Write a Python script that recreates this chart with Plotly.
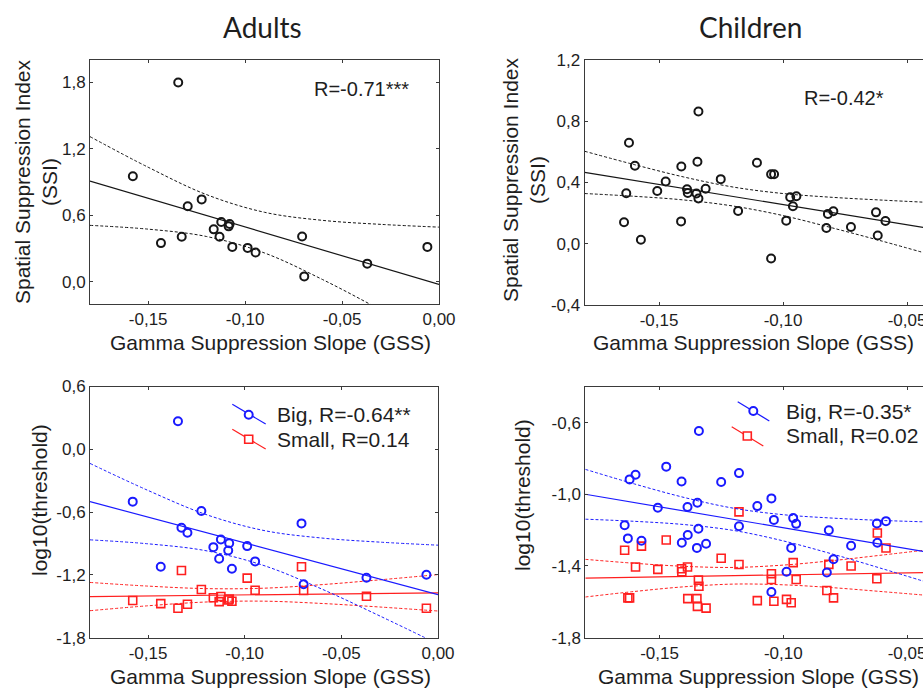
import plotly.graph_objects as go

W, H = 923, 689

# ---------------- data ----------------
# Adults (18 subjects)
adult_gss = [-0.1579, -0.1434, -0.1345, -0.1327, -0.1296, -0.1224, -0.1162, -0.1132, -0.1123,
             -0.1085, -0.1080, -0.1066, -0.0987, -0.0946, -0.0706, -0.0695, -0.0370, -0.0060]
adult_ssi = [0.952, 0.349, 1.797, 0.406, 0.682, 0.743, 0.473, 0.406, 0.540,
             0.500, 0.522, 0.315, 0.306, 0.264, 0.409, 0.049, 0.164, 0.315]
adult_big = [-0.500, -1.122, 0.268, -0.749, -0.797, -0.590, -0.935, -1.046, -0.861,
             -0.967, -0.897, -1.142, -0.925, -1.071, -0.708, -1.289, -1.228, -1.199]
adult_small = [-1.445, -1.474, -1.519, -1.158, -1.480, -1.340, -1.419, -1.455, -1.407,
               -1.440, -1.430, -1.452, -1.231, -1.346, -1.122, -1.349, -1.404, -1.519]

# Children, SSI panel (visible points)
child_ssi_gss = [-0.1641, -0.1632, -0.1621, -0.1597, -0.1573, -0.1507, -0.1473, -0.1411, -0.1410,
                 -0.1387, -0.1384, -0.1349, -0.1345, -0.1341, -0.1341, -0.1312, -0.1251, -0.1181,
                 -0.1105, -0.1048, -0.1048, -0.1036, -0.0987, -0.0971, -0.0960, -0.0946, -0.0825,
                 -0.0819, -0.0797, -0.0726, -0.0625, -0.0618, -0.0587]
child_ssi = [0.140, 0.330, 0.660, 0.509, 0.026, 0.345, 0.407, 0.146, 0.505,
             0.356, 0.332, 0.328, 0.536, 0.864, 0.295, 0.359, 0.422, 0.214,
             0.529, 0.454, -0.096, 0.454, 0.151, 0.304, 0.245, 0.310, 0.103,
             0.195, 0.212, 0.109, 0.205, 0.054, 0.149]

# Children, threshold panel (visible points)
child_thr_gss = [-0.1641, -0.1628, -0.1621, -0.1597, -0.1573, -0.1507, -0.1473, -0.1411, -0.1410,
                 -0.1387, -0.1386, -0.1349, -0.1347, -0.1343, -0.1341, -0.1312, -0.1251, -0.1179,
                 -0.1179, -0.1105, -0.1048, -0.1048, -0.1038, -0.0987, -0.0968, -0.0960, -0.0948,
                 -0.0824, -0.0816, -0.0797, -0.0726, -0.0622, -0.0620, -0.0585]
child_big = [-1.173, -1.246, -0.917, -0.891, -1.259, -1.075, -0.846, -0.929, -1.270,
             -1.071, -1.227, -1.299, -1.047, -1.192, -0.647, -1.276, -0.932, -0.882,
             -1.178, -1.066, -1.023, -1.545, -1.143, -1.432, -1.299, -1.133, -1.165,
             -1.436, -1.201, -1.362, -1.287, -1.163, -1.270, -1.150]
child_small = [-1.312, -1.578, -1.578, -1.406, -1.289, -1.419, -1.255, -1.415, -1.432,
               -1.406, -1.582, -1.582, -1.625, -1.479, -1.513, -1.635, -1.357, -1.098,
               -1.392, -1.593, -1.443, -1.475, -1.597, -1.586, -1.605, -1.381, -1.475,
               -1.537, -1.391, -1.578, -1.400, -1.471, -1.216, -1.300]

# Regression lines and 95% bands at fixed GSS values
adult_fit_gss = [-0.18, -0.15, -0.12, -0.09, -0.06, -0.03, 0.0]
adult_ssi_fit = [0.909, 0.754, 0.598, 0.443, 0.287, 0.132, -0.024]
adult_ssi_hi = [1.309, 1.033, 0.787, 0.627, 0.554, 0.518, 0.493]
adult_ssi_lo = [0.509, 0.475, 0.409, 0.260, 0.020, -0.254, -0.541]
adult_big_fit = [-0.500, -0.648, -0.796, -0.944, -1.092, -1.240, -1.388]
adult_big_hi = [-0.135, -0.393, -0.623, -0.776, -0.848, -0.887, -0.916]
adult_big_lo = [-0.865, -0.903, -0.969, -1.111, -1.336, -1.593, -1.860]
adult_small_fit = [-1.407, -1.401, -1.395, -1.389, -1.383, -1.377, -1.371]
adult_small_hi = [-1.272, -1.307, -1.331, -1.327, -1.293, -1.247, -1.197]
adult_small_lo = [-1.542, -1.495, -1.459, -1.451, -1.473, -1.507, -1.545]

child_fit_gss = [-0.18, -0.16, -0.14, -0.12, -0.10, -0.08, -0.06, -0.04]
child_ssi_fit = [0.466, 0.413, 0.361, 0.308, 0.256, 0.203, 0.151, 0.098]
child_ssi_hi = [0.604, 0.517, 0.436, 0.370, 0.328, 0.303, 0.285, 0.269]
child_ssi_lo = [0.328, 0.310, 0.286, 0.246, 0.184, 0.103, 0.017, -0.073]
child_big_fit = [-1.000, -1.047, -1.093, -1.140, -1.187, -1.234, -1.280, -1.327]
child_big_hi = [-0.861, -0.943, -1.018, -1.078, -1.114, -1.133, -1.146, -1.155]
child_big_lo = [-1.139, -1.151, -1.169, -1.202, -1.260, -1.334, -1.415, -1.499]
child_small_fit = [-1.468, -1.464, -1.459, -1.454, -1.450, -1.445, -1.441, -1.436]
child_small_hi = [-1.363, -1.385, -1.402, -1.408, -1.395, -1.370, -1.339, -1.307]
child_small_lo = [-1.573, -1.542, -1.516, -1.501, -1.505, -1.521, -1.543, -1.566]

# Tick values / labels
adult_x_ticks = [-0.15, -0.10, -0.05, 0.0]
adult_x_labels = ["-0,15", "-0,10", "-0,05", "0,00"]
child_x_ticks = [-0.15, -0.10, -0.05]
child_x_labels = ["-0,15", "-0,10", "-0,05"]
adult_ssi_ticks = [0.0, 0.6, 1.2, 1.8]
adult_ssi_labels = ["0,0", "0,6", "1,2", "1,8"]
child_ssi_ticks = [-0.4, 0.0, 0.4, 0.8, 1.2]
child_ssi_labels = ["-0,4", "0,0", "0,4", "0,8", "1,2"]
adult_thr_ticks = [-1.8, -1.2, -0.6, 0.0, 0.6]
adult_thr_labels = ["-1,8", "-1,2", "-0,6", "0,0", "0,6"]
child_thr_ticks = [-1.8, -1.4, -1.0, -0.6]
child_thr_labels = ["-1,8", "-1,4", "-1,0", "-0,6"]

titles = ["Adults", "Children"]
x_title = "Gamma Suppression Slope (GSS)"
ssi_title = "Spatial Suppression Index<br>(SSI)"
thr_title = "log10(threshold)"
r_labels = ["R=-0.71***", "R=-0.42*"]
legend_adult = ["Big, R=-0.64**", "Small, R=0.14"]
legend_child = ["Big, R=-0.35*", "Small, R=0.02"]

# ---------------- styling ----------------
BLACK = "#161616"
BLUE = "#1a1aff"
RED = "#ff1f1f"
FONT = "Liberation Sans, Arial, sans-serif"
TXT = "#1e1e1e"


def px(x):
    return x / W


def py(y):
    return 1 - y / H


fig = go.Figure()


def add_panel(ax, xs, ys, color, symbol, fit_x, fit, hi, lo, lw=2.0):
    xa = "x" if ax == 1 else f"x{ax}"
    ya = "y" if ax == 1 else f"y{ax}"
    for band in (hi, lo):
        fig.add_trace(go.Scatter(x=fit_x, y=band, mode="lines", xaxis=xa, yaxis=ya,
                                 line=dict(color=color, width=1, dash="3px,2px", shape="spline"),
                                 hoverinfo="skip"))
    fig.add_trace(go.Scatter(x=fit_x, y=fit, mode="lines", xaxis=xa, yaxis=ya,
                             line=dict(color=color, width=1.2), hoverinfo="skip"))
    fig.add_trace(go.Scatter(x=xs, y=ys, mode="markers", xaxis=xa, yaxis=ya,
                             marker=dict(symbol=symbol, size=8, color=color, line=dict(width=lw))))


add_panel(1, adult_gss, adult_ssi, BLACK, "circle-open", adult_fit_gss, adult_ssi_fit, adult_ssi_hi, adult_ssi_lo)
add_panel(2, child_ssi_gss, child_ssi, BLACK, "circle-open", child_fit_gss, child_ssi_fit, child_ssi_hi, child_ssi_lo)
add_panel(3, adult_gss, adult_small, RED, "square-open", adult_fit_gss, adult_small_fit, adult_small_hi, adult_small_lo, 1.6)
add_panel(3, adult_gss, adult_big, BLUE, "circle-open", adult_fit_gss, adult_big_fit, adult_big_hi, adult_big_lo)
add_panel(4, child_thr_gss, child_small, RED, "square-open", child_fit_gss, child_small_fit, child_small_hi, child_small_lo, 1.6)
add_panel(4, child_thr_gss, child_big, BLUE, "circle-open", child_fit_gss, child_big_fit, child_big_hi, child_big_lo)

tickfont = dict(family=FONT, size=17, color=TXT)


def axis(domain, rng, tv, tt, anchor, mirror):
    return dict(domain=domain, range=rng, tickvals=tv, ticktext=tt, anchor=anchor,
                automargin=False, ticklabeloverflow="allow",
                showline=True, linecolor="#3a3a3a", linewidth=1, mirror=mirror,
                ticks="inside", ticklen=3, tickcolor="#3a3a3a", showgrid=False, zeroline=False,
                tickfont=tickfont, fixedrange=True)


# pixel frames
f1 = (90, 439, 60, 304)
f2 = (584.6, 923, 60, 305)
f3 = (90, 438, 386.5, 637.7)
f4 = (585.3, 923, 386.7, 637.7)


def dom_x(f):
    return [px(f[0]), min(1.0, px(f[1]))]


def dom_y(f):
    return [py(f[3]), py(f[2])]


fig.update_layout(
    template="none",
    width=W, height=H, autosize=False,
    margin=dict(l=0, r=0, t=0, b=0, pad=0),
    paper_bgcolor="white", plot_bgcolor="white",
    showlegend=False,
    font=dict(family=FONT, color=TXT),
    xaxis=axis(dom_x(f1), [-0.18, 0.0], adult_x_ticks, adult_x_labels, "y", "ticks"),
    yaxis=axis(dom_y(f1), [-0.2, 2.0], adult_ssi_ticks, adult_ssi_labels, "x", "ticks"),
    xaxis2=axis(dom_x(f2), [-0.18, -0.04355], child_x_ticks, child_x_labels, "y2", "ticks"),
    yaxis2=axis(dom_y(f2), [-0.4, 1.2], child_ssi_ticks, child_ssi_labels, "x2", False),
    xaxis3=axis(dom_x(f3), [-0.18, 0.0], adult_x_ticks, adult_x_labels, "y3", "ticks"),
    yaxis3=axis(dom_y(f3), [-1.8, 0.6], adult_thr_ticks, adult_thr_labels, "x3", "ticks"),
    xaxis4=axis(dom_x(f4), [-0.18, -0.04355], child_x_ticks, child_x_labels, "y4", "ticks"),
    yaxis4=axis(dom_y(f4), [-1.8, -0.4], child_thr_ticks, child_thr_labels, "x4", False),
)

ann = []
shapes = []


def text(x, y, s, size, xanchor="center", angle=0, family=FONT):
    ann.append(dict(x=px(x), y=py(y), xref="paper", yref="paper", text=s, showarrow=False,
                    xanchor=xanchor, yanchor="middle", textangle=angle,
                    font=dict(family=family, size=size, color=TXT)))


# panel titles
text(262, 27, titles[0], 28, family="Lato, Open Sans, sans-serif")
text(750, 27, titles[1], 28, family="Lato, Open Sans, sans-serif")
# x titles
text(270, 342, x_title, 21)
text(753, 342, x_title, 21)
text(270, 676, x_title, 21)
text(758, 676, x_title, 21)
# y titles
text(36, 182, ssi_title, 21, angle=-90)
text(524, 180, ssi_title, 21, angle=-90)
text(39, 500, thr_title, 21, angle=-90)
text(522, 495, thr_title, 21, angle=-90)
# R labels
text(312, 89, r_labels[0], 20, xanchor="left")
text(802, 98, r_labels[1], 20, xanchor="left")


# legends (drawn)
def legend_item(lx0, ly0, lx1, ly1, mx, my, color, kind, label, tx):
    shapes.append(dict(type="line", xref="paper", yref="paper", x0=px(lx0), y0=py(ly0),
                       x1=px(lx1), y1=py(ly1), line=dict(color=color, width=1.2)))
    shapes.append(dict(type="circle" if kind == "c" else "rect", xref="paper", yref="paper",
                       xsizemode="pixel", ysizemode="pixel", xanchor=px(mx), yanchor=py(my),
                       x0=-4, x1=4, y0=-4, y1=4, fillcolor="white",
                       line=dict(color=color, width=2 if kind == "c" else 1.6)))
    text(tx, my, label, 21, xanchor="left")


legend_item(232.3, 404.3, 265.7, 424, 248.7, 414.7, BLUE, "c", legend_adult[0], 275)
legend_item(232.3, 429.3, 265.7, 449, 248.7, 439.3, RED, "s", legend_adult[1], 275)
legend_item(737.7, 401.7, 769.3, 421, 753.3, 411, BLUE, "c", legend_child[0], 784)
legend_item(731.7, 426.7, 763.3, 446, 747.3, 436, RED, "s", legend_child[1], 784)

fig.update_layout(annotations=ann, shapes=shapes)

fig.write_html("out.html", config={"displayModeBar": False},
               post_script="document.body.style.margin='0';document.body.style.overflow='hidden';")
